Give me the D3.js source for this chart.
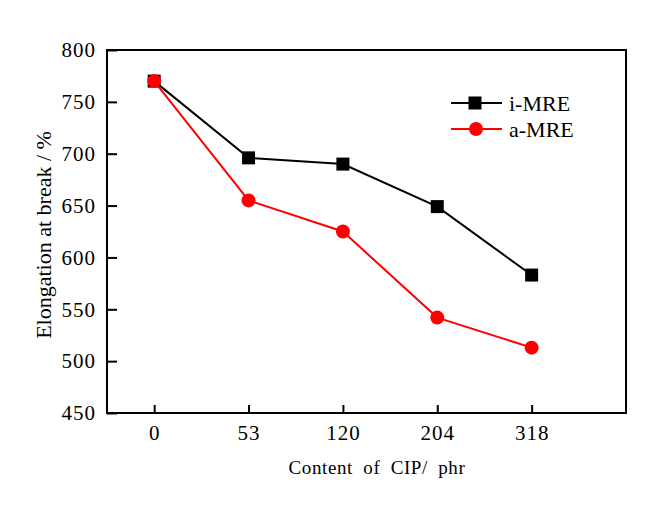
<!DOCTYPE html>
<html><head><meta charset="utf-8">
<script src="https://cdn.jsdelivr.net/npm/d3@7"></script>
<style>body{margin:0;background:#fff}svg{display:block}
svg text{font-family:"Liberation Serif","Times New Roman","DejaVu Serif",serif;fill:#000}</style>
</head><body>
<svg id="c" width="655" height="514"></svg>
<script>
const categories = ["0","53","120","204","318"];
const iMRE = [770, 696, 690, 649, 583];
const aMRE = [770, 655, 625, 542, 513];
const yTicks = [450,500,550,600,650,700,750,800];
const seriesNames = ["i-MRE","a-MRE"];

const svg = d3.select("#c");
const L=107, R=626, T=50, B=413;
const x = d3.scaleLinear().domain([-0.5, 5]).range([L, R]);
const y = d3.scaleLinear().domain([450, 800]).range([B, T]);

// frame
svg.append("rect").attr("x",L).attr("y",T).attr("width",R-L).attr("height",B-T)
  .attr("fill","none").attr("stroke","#000").attr("stroke-width",2);

// y axis
const ya = svg.append("g").attr("transform",`translate(${L},0)`)
  .call(d3.axisLeft(y).tickValues(yTicks).tickSize(-10).tickPadding(11));
ya.attr("font-family",null).attr("font-size",null);
ya.select(".domain").remove();
ya.selectAll("line").attr("stroke","#000").attr("stroke-width",2);
ya.selectAll("text").style("font-size","21px").attr("letter-spacing",1);

// x axis
const xa = svg.append("g").attr("transform",`translate(0,${B})`)
  .call(d3.axisBottom(x).tickValues(d3.range(categories.length)).tickFormat(i=>categories[i]).tickSize(-8).tickPadding(12));
xa.attr("font-family",null).attr("font-size",null);
xa.select(".domain").remove();
xa.selectAll("line").attr("stroke","#000").attr("stroke-width",2);
xa.selectAll("text").style("font-size","21px").attr("letter-spacing",1);

// titles
svg.append("text").attr("transform",`translate(43,${235}) rotate(-90)`)
  .attr("text-anchor","middle").attr("dy","0.35em").style("font-size","22px").text("Elongation at break / %");
svg.append("text").attr("x",377).attr("y",474).attr("text-anchor","middle")
  .style("font-size","19px").attr("letter-spacing",0.6).attr("word-spacing",5).text("Content of CIP/ phr");

const line = d3.line().x((d,i)=>x(i)).y(d=>y(d));
// i-MRE
svg.append("path").datum(iMRE).attr("d",line).attr("fill","none").attr("stroke","#000").attr("stroke-width",2);
svg.selectAll(".sq").data(iMRE).enter().append("rect")
  .attr("x",(d,i)=>x(i)-6.5).attr("y",d=>y(d)-6.5).attr("width",13).attr("height",13).attr("fill","#000");
// a-MRE
svg.append("path").datum(aMRE).attr("d",line).attr("fill","none").attr("stroke","#ff0000").attr("stroke-width",2);
svg.selectAll(".ci").data(aMRE).enter().append("circle")
  .attr("cx",(d,i)=>x(i)).attr("cy",d=>y(d)).attr("r",7).attr("fill","#ff0000");

// legend
const lg = svg.append("g");
const items = [{n:seriesNames[0],c:"#000",s:"sq",yy:103},{n:seriesNames[1],c:"#ff0000",s:"ci",yy:129}];
items.forEach(it=>{
  lg.append("line").attr("x1",451).attr("x2",502).attr("y1",it.yy).attr("y2",it.yy).attr("stroke",it.c).attr("stroke-width",2);
  if(it.s==="sq") lg.append("rect").attr("x",475-6.5).attr("y",it.yy-6.5).attr("width",13).attr("height",13).attr("fill",it.c);
  else lg.append("circle").attr("cx",476).attr("cy",it.yy).attr("r",7).attr("fill",it.c);
  lg.append("text").attr("x",509).attr("y",it.yy).attr("dy","0.35em").style("font-size","22px").text(it.n);
});
</script>
</body></html>
